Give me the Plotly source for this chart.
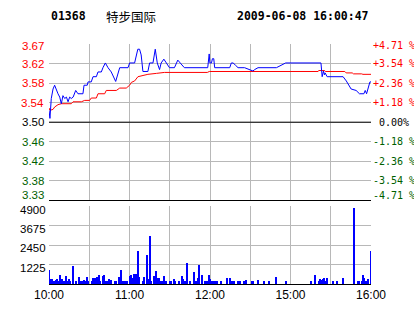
import plotly.graph_objects as go

# ---------------- data ----------------
stock_code = "01368"
stock_name = "特步国际"
timestamp = "2009-06-08 16:00:47"
prev_close = 3.50

# price (blue) vertices: minutes since 10:00 (trading minutes) and price
price_min = [0, 0.7, 1.7, 3.0, 4.2, 5.5, 6.7, 8.0, 9.2, 10.4, 11.7, 13.0, 14.2, 15.4, 16.6, 18.0,
             19.9, 21.6, 25.3, 26.1, 28.5, 29.1, 31.5, 32.8, 35.3, 36.5, 39.0, 40.2, 42.0, 44.0,
             46.4, 49.7, 51.4, 52.7, 58.9, 60.1, 63.8, 65.0, 66.2, 67.5, 68.7, 70.0, 73.7, 75.0,
             77.5, 79.2, 80.7, 82.4, 83.6, 85.6, 87.3, 89.8, 93.5, 96.0, 98.4, 100.9, 118.3,
             119.4, 119.9, 121.1, 121.8, 122.8, 123.5, 134.7, 135.9, 137.2, 139.1, 140.9, 145.8,
             149.1, 152.0, 153.3, 155.8, 169.5, 173.2, 176.4, 202.7, 203.6, 204.6, 205.3, 205.8,
             207.3, 219.2, 221.6, 225.2, 228.9, 231.4, 234.7, 235.7, 236.7, 237.7, 239.2, 240]
price_val = [3.525, 3.508, 3.550, 3.570, 3.578, 3.566, 3.560, 3.553, 3.539, 3.556, 3.550, 3.553,
             3.543, 3.553, 3.550, 3.553, 3.567, 3.560, 3.560, 3.578, 3.578, 3.585, 3.585, 3.596,
             3.596, 3.606, 3.606, 3.615, 3.625, 3.615, 3.606, 3.586, 3.606, 3.615, 3.615, 3.625,
             3.625, 3.642, 3.654, 3.654, 3.642, 3.607, 3.607, 3.625, 3.625, 3.654, 3.625, 3.611,
             3.625, 3.633, 3.625, 3.615, 3.615, 3.631, 3.623, 3.615, 3.615, 3.644, 3.625, 3.625,
             3.634, 3.634, 3.615, 3.615, 3.625, 3.625, 3.620, 3.615, 3.615, 3.611, 3.608, 3.611,
             3.615, 3.615, 3.620, 3.625, 3.625, 3.596, 3.608, 3.600, 3.604, 3.596, 3.596, 3.587,
             3.570, 3.567, 3.560, 3.560, 3.567, 3.560, 3.570, 3.585, 3.585]

# average price (red) vertices
avg_min = [0, 0.7, 3.0, 4.2, 6.7, 9.2, 16.6, 17.9, 24.1, 26.6, 30.3, 31.5, 35.3, 36.5, 41.5,
           42.7, 50.2, 52.7, 57.6, 60.1, 61.4, 63.8, 66.3, 70.0, 73.7, 80.0, 86.0, 118.0, 119.5,
           200.6, 201.0, 205.5, 206.0, 220.5, 221.5, 226.0, 227.0, 233.0, 234.0, 240]
avg_val = [3.530, 3.525, 3.527, 3.532, 3.537, 3.539, 3.539, 3.543, 3.543, 3.546, 3.546, 3.551,
           3.551, 3.560, 3.560, 3.567, 3.567, 3.572, 3.572, 3.578, 3.584, 3.587, 3.596, 3.599,
           3.601, 3.603, 3.605, 3.605, 3.607, 3.607, 3.609, 3.609, 3.607, 3.607, 3.604, 3.604,
           3.602, 3.602, 3.601, 3.601]

# volume bars
vol_min = [0, 1, 2, 4, 5, 6, 7, 8, 9, 10, 11, 12, 13, 14, 15, 16, 18, 20, 22, 23, 24, 25, 26, 27,
           28, 29, 32, 33, 34, 36, 37, 38, 40, 41, 42, 43, 45, 46, 49, 50, 52, 53, 54, 55, 57,
           58, 60, 61, 62, 63, 64, 65, 66, 67, 70, 71, 73, 74, 75, 76, 78, 79, 80, 81, 82, 83,
           84, 85, 86, 87, 90, 91, 93, 94, 97, 99, 100, 101, 102, 103, 105, 108, 109, 110, 111,
           112, 114, 116, 118, 119, 120, 121, 122, 124, 125, 128, 133, 135, 136, 137, 138, 141,
           142, 145, 147, 151, 152, 156, 160, 164, 169, 177, 195, 198, 201, 202, 203, 204, 205,
           206, 207, 212, 215, 219, 227, 230, 231, 233, 234, 235, 236, 237, 238, 240]
vol_val = [870, 290, 290, 145, 228, 290, 145, 560, 145, 290, 145, 145, 497, 145, 290, 145, 1118,
           145, 435, 145, 145, 145, 228, 186, 435, 186, 186, 352, 352, 435, 560, 186, 497, 560,
           186, 186, 290, 228, 145, 145, 435, 290, 870, 145, 186, 145, 497, 560, 352, 642, 600,
           600, 2050, 435, 145, 435, 1800, 290, 2980, 186, 497, 186, 807, 352, 352, 186, 145,
           186, 497, 186, 145, 145, 290, 145, 145, 497, 290, 145, 186, 1304, 145, 766, 145, 145,
           352, 1180, 560, 145, 186, 560, 290, 145, 145, 145, 145, 145, 352, 352, 186, 186, 186,
           145, 145, 145, 228, 186, 186, 228, 145, 145, 435, 186, 145, 560, 145, 290, 228, 290,
           352, 186, 352, 145, 186, 352, 4780, 186, 145, 186, 560, 352, 186, 186, 290, 2050]

grid_min = [0, 30, 60, 90, 120, 150, 180, 210, 240]
time_labels = ["10:00", "", "11:00", "", "12:00", "", "15:00", "", "16:00"]

price_ticks = [3.665, 3.62375, 3.5825, 3.54125, 3.50, 3.45875, 3.4175, 3.37625, 3.335]
price_labels = ["3.67", "3.62", "3.58", "3.54", "3.50", "3.46", "3.42", "3.38", "3.33"]
pct_labels = ["+4.71 %", "+3.54 %", "+2.36 %", "+1.18 %", " 0.00%",
              "-1.18 %", "-2.36 %", "-3.54 %", "-4.71 %"]
vol_ticks = [4900, 3675, 2450, 1225]
vol_labels = ["4900", "3675", "2450", "1225"]

# ---------------- styles ----------------
RED = "#ff0000"
GREEN = "#005f00"
BLUE = "#0000ff"
GRID = "#b8b8b8"
label_colors = [RED] * 4 + ["#000000"] + [GREEN] * 4
label_yshift = [-1.5, 0, 0, 0, 0, 0, 0, 0, 5]

fig = go.Figure()
fig.add_trace(go.Scatter(x=avg_min, y=avg_val, mode="lines",
                         line=dict(color=RED, width=1), xaxis="x", yaxis="y",
                         hoverinfo="skip"))
fig.add_trace(go.Scatter(x=price_min, y=price_val, mode="lines",
                         line=dict(color=BLUE, width=1), xaxis="x", yaxis="y",
                         hoverinfo="skip"))
fig.add_trace(go.Bar(x=vol_min, y=vol_val, width=0.75,
                     marker=dict(color=BLUE, line=dict(width=0)),
                     xaxis="x2", yaxis="y2", hoverinfo="skip"))

annotations = []
sans = "Liberation Sans, Arial, sans-serif"
mono = "DejaVu Sans Mono, monospace"
for v, t, c, s in zip(price_ticks, price_labels, label_colors, label_yshift):
    annotations.append(dict(xref="paper", yref="y", x=0, y=v, text=t, showarrow=False,
                            xanchor="right", yanchor="middle", xshift=-3, yshift=s,
                            font=dict(family=sans, size=11.5, color=c)))
for v, t, c, s in zip(price_ticks, pct_labels, label_colors, label_yshift):
    annotations.append(dict(xref="paper", yref="y", x=1, y=v, text=t, showarrow=False,
                            xanchor="left", yanchor="middle", xshift=0, yshift=s,
                            font=dict(family=mono, size=10, color=c)))
for v, t in zip(vol_ticks, vol_labels):
    annotations.append(dict(xref="paper", yref="y2", x=0, y=v, text=t, showarrow=False,
                            xanchor="right", yanchor="middle", xshift=-1,
                            yshift=-4 if v == vol_ticks[0] else -3,
                            font=dict(family=sans, size=11.5, color="#000000")))

annotations.append(dict(xref="paper", yref="paper", x=0.0, y=1.115, text="<b>" + stock_code + "</b>",
                        showarrow=False, xanchor="left", yanchor="middle",
                        font=dict(family=mono, size=11.5, color="#000000")))
annotations.append(dict(xref="paper", yref="paper", x=0.17, y=1.115, text=stock_name,
                        showarrow=False, xanchor="left", yanchor="middle",
                        font=dict(family="Noto Sans CJK SC", size=12.5, color="#000000")))
annotations.append(dict(xref="paper", yref="paper", x=1.0, y=1.115, text="<b>" + timestamp + "</b>",
                        showarrow=False, xanchor="right", yanchor="middle",
                        font=dict(family=mono, size=11.5, color="#000000")))

fig.update_layout(
    width=414, height=314,
    margin=dict(l=49, r=43, t=44, b=26, pad=0),
    paper_bgcolor="white", plot_bgcolor="white",
    showlegend=False, bargap=0,
    xaxis=dict(domain=[0, 1], anchor="y", range=[0, 240], tickmode="array",
               tickvals=grid_min, showticklabels=False, ticks="",
               showgrid=True, gridcolor=GRID, gridwidth=1, zeroline=False,
               showline=True, linecolor="#000000", linewidth=1),
    yaxis=dict(domain=[0.3484, 1], anchor="x", range=[price_ticks[-1], price_ticks[0]],
               tickmode="array", tickvals=price_ticks, showticklabels=False, ticks="",
               showgrid=True, gridcolor=GRID, gridwidth=1, zeroline=False, showline=False),
    xaxis2=dict(domain=[0, 1], anchor="y2", range=[0, 240], tickmode="array",
                tickvals=grid_min, ticktext=time_labels, ticks="",
                tickfont=dict(family=sans, size=12, color="#000000"),
                showgrid=True, gridcolor=GRID, gridwidth=1, zeroline=False,
                showline=True, linecolor="#000000", linewidth=1),
    yaxis2=dict(domain=[0, 0.3238], anchor="x2", range=[0, vol_ticks[0]],
                tickmode="array", tickvals=[0] + vol_ticks, showticklabels=False, ticks="",
                showgrid=True, gridcolor=GRID, gridwidth=1, zeroline=False, showline=False),
    shapes=[dict(type="line", xref="x", yref="y", x0=0, x1=240, y0=prev_close, y1=prev_close,
                 line=dict(color="#000000", width=1), layer="above")],
    annotations=annotations,
)

fig.write_html("out.html")
